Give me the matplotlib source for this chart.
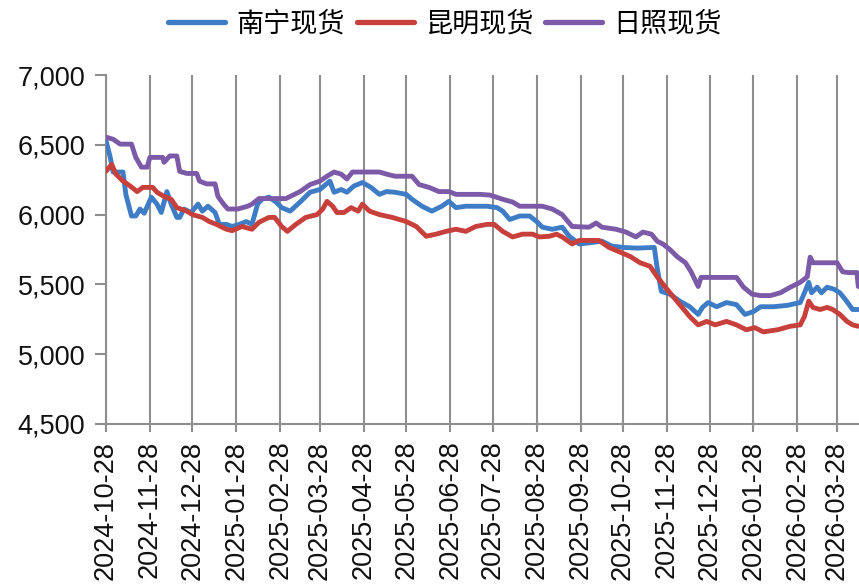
import matplotlib
matplotlib.use("Agg")
import matplotlib.pyplot as plt
import matplotlib.dates as mdates
from matplotlib.ticker import FuncFormatter
import pandas as pd

plt.rcParams['font.family'] = ['Liberation Sans', 'Noto Sans CJK SC', 'DejaVu Sans']

series_names = ["南宁现货", "昆明现货", "日照现货"]

nanning_dates = [
    "2024-10-28", "2024-10-31", "2024-11-02", "2024-11-09", "2024-11-11", "2024-11-15", "2024-11-18",
    "2024-11-21", "2024-11-24", "2024-11-29", "2024-12-03", "2024-12-06", "2024-12-10", "2024-12-13",
    "2024-12-17", "2024-12-19", "2024-12-22", "2024-12-27", "2025-01-01", "2025-01-04", "2025-01-08",
    "2025-01-13", "2025-01-16", "2025-01-21", "2025-01-25", "2025-01-30", "2025-02-04", "2025-02-08",
    "2025-02-12", "2025-02-15", "2025-02-20", "2025-02-25", "2025-03-01", "2025-03-07", "2025-03-14",
    "2025-03-21", "2025-03-28", "2025-04-04", "2025-04-07", "2025-04-12", "2025-04-16", "2025-04-21",
    "2025-04-27", "2025-05-03", "2025-05-09", "2025-05-14", "2025-05-20", "2025-05-28", "2025-06-01",
    "2025-06-08", "2025-06-15", "2025-06-22", "2025-06-27", "2025-07-02", "2025-07-09", "2025-07-19",
    "2025-07-24", "2025-07-31", "2025-08-04", "2025-08-09", "2025-08-16", "2025-08-23", "2025-08-28",
    "2025-09-01", "2025-09-08", "2025-09-15", "2025-09-20", "2025-09-27", "2025-10-06", "2025-10-13",
    "2025-10-20", "2025-10-28", "2025-11-07", "2025-11-19", "2025-11-21", "2025-11-24", "2025-11-30",
    "2025-12-07", "2025-12-14", "2025-12-20", "2025-12-23", "2025-12-27", "2026-01-02", "2026-01-09",
    "2026-01-16", "2026-01-22", "2026-01-28", "2026-02-02", "2026-02-11", "2026-02-21", "2026-03-02",
    "2026-03-04", "2026-03-08", "2026-03-10", "2026-03-14", "2026-03-17", "2026-03-21", "2026-03-26",
    "2026-03-30", "2026-04-03", "2026-04-08", "2026-04-12",
]
nanning_values = [
    6530, 6410, 6305, 6305, 6145, 5990, 5990,
    6040, 6010, 6125, 6075, 6015, 6165, 6075,
    5980, 5980, 6040, 6015, 6075, 6025, 6060,
    6015, 5930, 5930, 5915, 5930, 5950, 5930,
    6075, 6110, 6125, 6090, 6050, 6025, 6090,
    6160, 6180, 6240, 6160, 6180, 6160, 6205,
    6230, 6195, 6145, 6165, 6160, 6145, 6110,
    6060, 6025, 6060, 6095, 6050, 6060, 6060,
    6060, 6050, 6025, 5965, 5990, 5990, 5950,
    5910, 5895, 5910, 5845, 5790, 5800, 5810,
    5775, 5765, 5760, 5765, 5620, 5450, 5430,
    5380, 5340, 5285, 5335, 5370, 5340, 5370,
    5355, 5285, 5305, 5340, 5340, 5350, 5370,
    5415, 5515, 5440, 5480, 5440, 5480, 5465,
    5440, 5390, 5320, 5320,
]

kunming_dates = [
    "2024-10-28", "2024-11-01", "2024-11-04", "2024-11-09", "2024-11-14", "2024-11-19", "2024-11-23",
    "2024-11-30", "2024-12-03", "2024-12-08", "2024-12-13", "2024-12-17", "2024-12-24", "2024-12-28",
    "2025-01-04", "2025-01-09", "2025-01-14", "2025-01-21", "2025-01-25", "2025-02-01", "2025-02-08",
    "2025-02-13", "2025-02-20", "2025-02-24", "2025-03-01", "2025-03-05", "2025-03-11", "2025-03-18",
    "2025-03-26", "2025-03-30", "2025-04-02", "2025-04-06", "2025-04-09", "2025-04-14", "2025-04-19",
    "2025-04-24", "2025-04-27", "2025-05-02", "2025-05-09", "2025-05-18", "2025-05-28", "2025-06-04",
    "2025-06-11", "2025-06-18", "2025-06-25", "2025-07-02", "2025-07-09", "2025-07-16", "2025-07-24",
    "2025-07-29", "2025-08-04", "2025-08-11", "2025-08-18", "2025-08-25", "2025-08-30", "2025-09-06",
    "2025-09-11", "2025-09-15", "2025-09-22", "2025-09-27", "2025-10-11", "2025-10-18", "2025-10-25",
    "2025-11-02", "2025-11-09", "2025-11-16", "2025-11-21", "2025-11-28", "2025-12-07", "2025-12-14",
    "2025-12-20", "2025-12-26", "2026-01-01", "2026-01-09", "2026-01-16", "2026-01-23", "2026-01-29",
    "2026-02-04", "2026-02-14", "2026-02-23", "2026-03-02", "2026-03-05", "2026-03-08", "2026-03-11",
    "2026-03-16", "2026-03-21", "2026-03-25", "2026-03-30", "2026-04-04", "2026-04-08", "2026-04-12",
]
kunming_values = [
    6310, 6360, 6290, 6240, 6205, 6165, 6195,
    6195, 6160, 6130, 6110, 6050, 6025, 6000,
    5980, 5950, 5930, 5895, 5885, 5915, 5895,
    5945, 5980, 5980, 5915, 5880, 5930, 5980,
    6000, 6040, 6095, 6060, 6015, 6015, 6050,
    6025, 6075, 6025, 6000, 5980, 5950, 5915,
    5845, 5860, 5880, 5895, 5880, 5915, 5930,
    5930, 5880, 5840, 5860, 5860, 5840, 5845,
    5860, 5840, 5790, 5815, 5815, 5765, 5735,
    5700, 5655, 5630, 5555, 5465, 5355, 5270,
    5210, 5235, 5210, 5235, 5210, 5175, 5190,
    5160, 5175, 5200, 5210, 5270, 5380, 5335,
    5320, 5335, 5320, 5285, 5235, 5210, 5200,
]

rizhao_dates = [
    "2024-10-28", "2024-11-02", "2024-11-07", "2024-11-15", "2024-11-18", "2024-11-22", "2024-11-26",
    "2024-11-28", "2024-12-07", "2024-12-08", "2024-12-12", "2024-12-17", "2024-12-19", "2024-12-24",
    "2024-12-31", "2025-01-02", "2025-01-07", "2025-01-13", "2025-01-15", "2025-01-19", "2025-01-22",
    "2025-01-29", "2025-02-05", "2025-02-08", "2025-02-13", "2025-03-04", "2025-03-14", "2025-03-21",
    "2025-03-28", "2025-04-02", "2025-04-07", "2025-04-12", "2025-04-16", "2025-04-20", "2025-05-09",
    "2025-05-14", "2025-05-20", "2025-06-01", "2025-06-06", "2025-06-13", "2025-06-20", "2025-06-27",
    "2025-07-02", "2025-07-19", "2025-07-26", "2025-08-04", "2025-08-11", "2025-08-16", "2025-09-01",
    "2025-09-08", "2025-09-15", "2025-09-22", "2025-10-04", "2025-10-09", "2025-10-13", "2025-10-23",
    "2025-10-30", "2025-11-06", "2025-11-11", "2025-11-17", "2025-11-21", "2025-11-25", "2025-11-30",
    "2025-12-05", "2025-12-11", "2025-12-15", "2025-12-20", "2025-12-22", "2026-01-16", "2026-01-21",
    "2026-01-27", "2026-02-02", "2026-02-09", "2026-02-16", "2026-02-23", "2026-03-02", "2026-03-07",
    "2026-03-09", "2026-03-11", "2026-03-28", "2026-04-01", "2026-04-05", "2026-04-11", "2026-04-12",
]
rizhao_values = [
    6555, 6540, 6505, 6505, 6410, 6340, 6340,
    6410, 6410, 6375, 6420, 6420, 6310, 6295,
    6295, 6240, 6220, 6220, 6130, 6075, 6040,
    6040, 6060, 6075, 6115, 6115, 6165, 6215,
    6240, 6275, 6305, 6290, 6255, 6305, 6305,
    6290, 6275, 6275, 6215, 6195, 6165, 6165,
    6145, 6145, 6140, 6110, 6090, 6060, 6060,
    6040, 6000, 5915, 5910, 5940, 5910, 5895,
    5875, 5840, 5875, 5860, 5810, 5790, 5750,
    5700, 5655, 5590, 5485, 5550, 5550, 5480,
    5430, 5420, 5420, 5440, 5480, 5515, 5555,
    5695, 5655, 5655, 5590, 5585, 5585, 5485,
]

tick_dates = [
    "2024-10-28", "2024-11-28", "2024-12-28", "2025-01-28", "2025-02-28", "2025-03-28",
    "2025-04-28", "2025-05-28", "2025-06-28", "2025-07-28", "2025-08-28", "2025-09-28",
    "2025-10-28", "2025-11-28", "2025-12-28", "2026-01-28", "2026-02-28", "2026-03-28",
]
y_ticks = [4500, 5000, 5500, 6000, 6500, 7000]

colors = ["#3E7DC6", "#C8403C", "#7C5AA8"]

fig = plt.figure(figsize=(8.59, 5.87), dpi=100)
ax = fig.add_axes([0.1234, 0.2777, 0.8766, 0.5945])

all_dates = [nanning_dates, kunming_dates, rizhao_dates]
all_values = [nanning_values, kunming_values, rizhao_values]
for name, d, v, c in zip(series_names, all_dates, all_values, colors):
    ax.plot(pd.to_datetime(d), v, color=c, lw=3.5, label=name,
            solid_joinstyle="round", solid_capstyle="round", zorder=3)

ax.set_ylim(4500, 7000)
ax.set_yticks(y_ticks)
ax.yaxis.set_major_formatter(FuncFormatter(lambda v, p: f"{int(v):,}"))
ax.set_xlim(pd.Timestamp("2024-10-28"), pd.Timestamp("2026-04-12 12:00"))
tk = pd.to_datetime(tick_dates)
ax.set_xticks(tk)
ax.set_xticklabels(tick_dates, rotation=90)

gc = "#8E8E8E"
ax.grid(axis="x", color=gc, lw=1.5, zorder=1)
for s in ["top", "right"]:
    ax.spines[s].set_visible(False)
for s in ["left", "bottom"]:
    ax.spines[s].set_color(gc)
    ax.spines[s].set_linewidth(1.5)
ax.tick_params(axis="both", colors=gc, width=1.5, labelcolor="#111111", labelsize=19.5)
ax.tick_params(axis="y", length=8, pad=7)
ax.tick_params(axis="x", length=6, pad=6)

leg = fig.legend(loc="center", bbox_to_anchor=(0.518, 0.958), ncol=3, frameon=False,
                 fontsize=19.5, handlelength=2.1, handletextpad=0.4, columnspacing=0.45,
                 borderaxespad=0)
for h in leg.get_lines():
    h.set_linewidth(3.8)
    h.set_solid_capstyle("round")

fig.savefig("out.png", dpi=100)
